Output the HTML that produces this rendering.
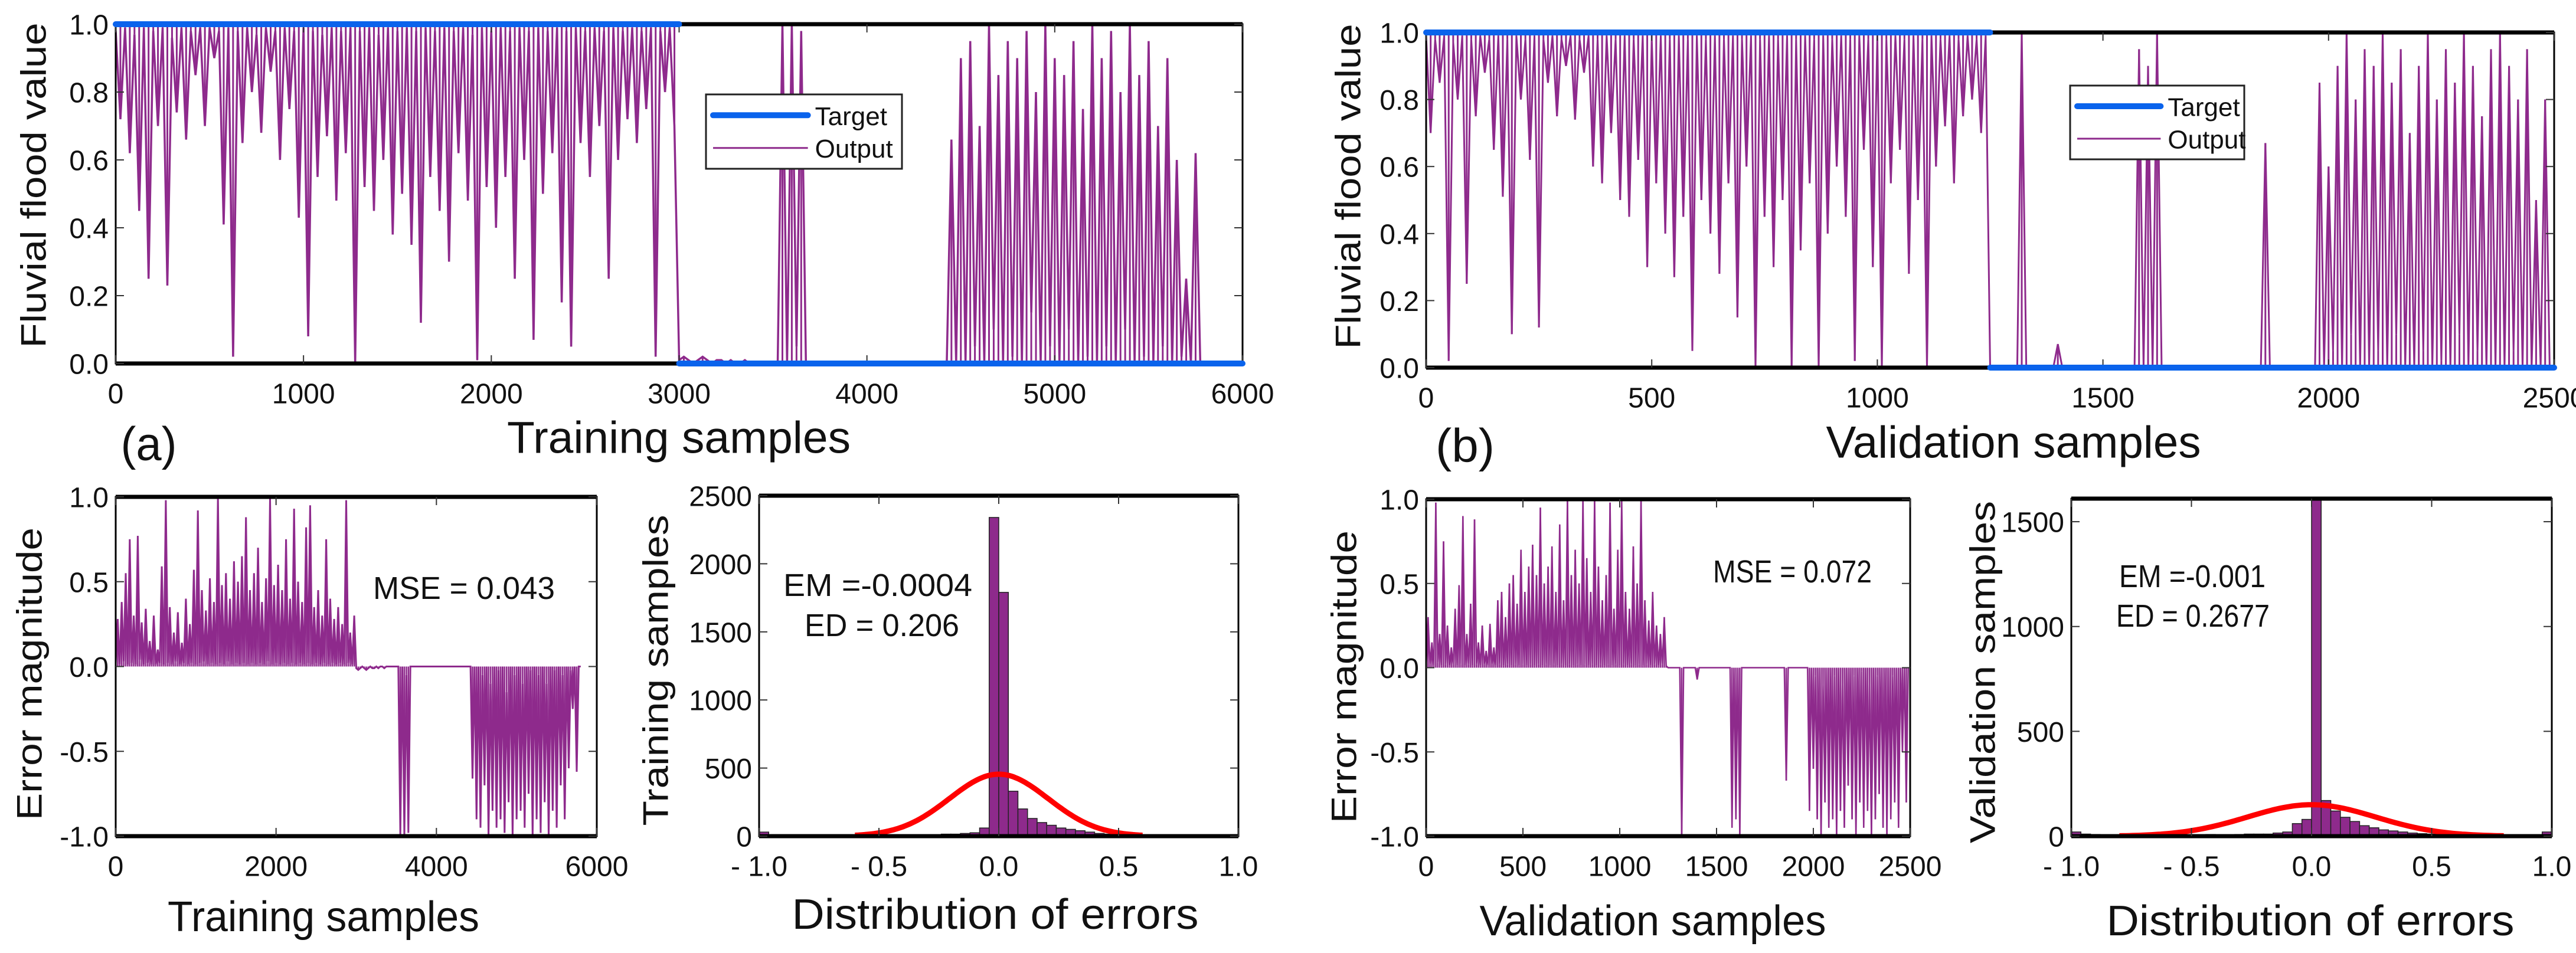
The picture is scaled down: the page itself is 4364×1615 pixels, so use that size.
<!DOCTYPE html>
<html><head><meta charset="utf-8">
<style>
html,body{margin:0;padding:0;background:#fff;}
svg{display:block;}
text{font-family:"Liberation Sans Narrow","Liberation Sans",sans-serif;fill:#111;}
.big{font-family:"Liberation Sans",sans-serif;font-weight:normal;}
</style></head>
<body>
<svg id="fig" xmlns="http://www.w3.org/2000/svg" width="4364" height="1615" viewBox="0 0 4364 1615"></svg>
<script>
// ---------- data ----------
const trainStep = 25;
const trainOutput = [
.98,.72,.99,.62,.97,.45,.99,.25,.98,.70,
.99,.23,.96,.74,.99,.66,.98,.85,.99,.70,
.99,.90,.98,.41,.99,.02,.98,.65,.99,.80,
.97,.68,.99,.86,.98,.60,.99,.75,.98,.43,
.99,.08,.98,.55,.97,.67,.99,.48,.98,.62,
.99,.00,.98,.52,.99,.45,.97,.60,.99,.38,
.98,.50,.99,.35,.98,.12,.99,.55,.98,.45,
.99,.30,.98,.62,.99,.48,.97,.01,.99,.52,
.98,.40,.99,.55,.98,.25,.99,.60,.98,.07,
.99,.50,.98,.62,.99,.18,.98,.05,.99,.65,
.98,.55,.99,.70,.98,.25,.99,.60,.98,.72,
.99,.65,.98,.75,.99,.02,.98,.80,.99,.70,
.01,.02,.01,0,.01,.02,.01,0,.01,.01,
0,.01,0,0,.01,0,0,0,0,0,
0,0,
1.0,0,1.0,.05,.98,0,
0,0,0,0,0,0,0,0,0,0,
0,0,0,0,0,0,0,0,0,0,
0,0,0,0,0,0,0,0,0,0,
.66,0,
.9,0,.95,.05,.7,0,1.0,.1,.85,0,
.95,.02,.9,0,.98,.15,.8,0,1.0,.05,
.9,0,.85,.1,.95,0,.75,.02,1.0,0,
.9,.05,.98,0,.8,.1,1.0,0,.85,.02,
.95,0,.7,.05,.9,0,.6,.02,.25,0,
.62,0,
0];
const trainTargetX = [0, 3000, 3000, 6000];
const trainTargetY = [1, 1, 0, 0];

const valStep = 10;
const valOutput = [
.99,.70,.98,.85,.99,.02,.97,.80,.99,.25,
.98,.75,.99,.88,.98,.65,.99,.51,.98,.10,
.99,.80,.98,.62,.99,.12,.98,.85,.99,.75,
.98,.90,.99,.74,.98,.88,.99,.60,.98,.55,
.99,.70,.98,.50,.99,.45,.98,.62,.99,.30,
.98,.55,.99,.40,.98,.27,.99,.45,.98,.05,
.99,.50,.98,.40,.99,.28,.98,.55,.99,.15,
.98,.60,.99,0,.98,.45,.99,.30,.98,.50,
.99,0,.98,.35,.99,.55,.98,0,.99,.40,
.98,.60,.99,.45,.98,.02,.99,.65,.98,.30,
.99,0,.98,.55,.99,.65,.98,.28,.99,.50,
.98,0,.99,.60,.98,.72,.99,.55,.98,.75,
.99,.80,.98,.70,.99,
0,0,0,0,0,0,0,1.0,0,0,0,0,0,0,0,.07,
0,0,0,0,0,0,0,0,0,0,0,0,0,0,0,0,0,
.95,0,.9,0,1.0,0,
0,0,0,0,0,0,0,0,0,0,0,0,0,0,0,0,0,0,0,0,0,0,
.67,
0,0,0,0,0,0,0,0,0,0,0,
.85,0,.6,.05,.9,0,1.0,.1,.8,0,
.95,0,.9,.05,1.0,0,.85,.1,.95,0,
.7,0,.9,.05,1.0,0,.8,.02,.95,0,
.85,.1,1.0,0,.9,.05,.75,0,.95,0,
1.0,0,.9,.05,.8,0,.95,0,.5,0,
.8,0];
const valTargetX = [0, 1250, 1250, 2500];
const valTargetY = [1, 1, 0, 0];

const binStart = -1, binWidth = 0.04;
const trainHist = [30,5,5,5,5,10,5,10,5,10, 5,5,10,5,10,5,10,10,10,15, 15,20,25,60,2340, 1790,330,200,130,100, 80,60,50,40,30,20,15,10,5,5, 3,2,2,0,0,0,0,0,0,0];
const valHist = [20,10,8,5,5,5,5,5,5,5, 5,5,5,5,8,5,5,8,10,10, 10,15,20,60,80, 3000,170,120,90,70, 50,40,30,25,20,15,12,10,8,6, 5,5,5,5,5,5,5,5,5,20];
const trainFit = [0, 0.206, 455, -0.6, 0.6];   // mean, sd, peak, from, to
const valFit = [0, 0.2677, 150, -0.8, 0.8];

const ticksTopA = [0,1000,2000,3000,4000,5000,6000];
const ticksTopB = [0,500,1000,1500,2000,2500];
const ticksY01 = [0,0.2,0.4,0.6,0.8,1.0];
const ticksErrXA = [0,2000,4000,6000];
const ticksErrXB = [0,500,1000,1500,2000,2500];
const ticksErrY = [-1,-0.5,0,0.5,1];
const ticksHistX = [-1,-0.5,0,0.5,1];
const ticksHistYA = [0,500,1000,1500,2000,2500];
const ticksHistYB = [0,500,1000,1500];

// ---------- drawing ----------
const NS = 'http://www.w3.org/2000/svg';
const svg = document.getElementById('fig');
const PURPLE = '#8e2a8c', BLUE = '#0a63ec';
let clipId = 0;
function mk(tag, attrs, parent){
  const e = document.createElementNS(NS, tag);
  for (const k in attrs) e.setAttribute(k, attrs[k]);
  (parent || svg).appendChild(e);
  return e;
}
function fmt(v, dec){ return dec === 0 ? String(v) : v.toFixed(dec); }
function axes(name, o){
  const g = mk('g', {});
  
  
  o.sx = v => o.x0 + (v - o.xmin) / (o.xmax - o.xmin) * (o.x1 - o.x0);
  o.sy = v => o.y1 - (v - o.ymin) / (o.ymax - o.ymin) * (o.y1 - o.y0);
  const id = 'c' + (clipId++);
  const cp = mk('clipPath', {id: id}, g);
  mk('rect', {x:o.x0, y:o.y0, width:o.x1-o.x0, height:o.y1-o.y0}, cp);
  o.plot = mk('g', {'clip-path':'url(#'+id+')'}, g);
  
  
  o.g = g;
  return o;
}
function frame(o, xt, yt, xdec, ydec){
  const g = o.g;
  const f = mk('rect', {x:o.x0, y:o.y0, width:o.x1-o.x0, height:o.y1-o.y0, fill:'none', stroke:'#000', 'stroke-width':3}, g);
  
  
  mk('line', {x1:o.x0, x2:o.x1, y1:o.y0, y2:o.y0, stroke:'#000', 'stroke-width':7}, g);
  mk('line', {x1:o.x0, x2:o.x1, y1:o.y1, y2:o.y1, stroke:'#000', 'stroke-width':7}, g);
  xt.forEach(v => {
    const x = o.sx(v);
    mk('line', {x1:x, x2:x, y1:o.y1, y2:o.y1-14, stroke:'#333', 'stroke-width':2}, g);
    mk('line', {x1:x, x2:x, y1:o.y0, y2:o.y0+14, stroke:'#333', 'stroke-width':2}, g);
    const t = mk('text', {x:x, y:o.y1+52, 'font-size':48, 'text-anchor':'middle', 'dominant-baseline':'central'}, g);
    
    
    t.textContent = fmt(v, xdec).replace('-', '- ');
  });
  yt.forEach(v => {
    const y = o.sy(v);
    mk('line', {x1:o.x0, x2:o.x0+14, y1:y, y2:y, stroke:'#333', 'stroke-width':2}, g);
    mk('line', {x1:o.x1, x2:o.x1-14, y1:y, y2:y, stroke:'#333', 'stroke-width':2}, g);
    const t = mk('text', {x:o.x0-12, y:y+2, 'font-size':48, 'text-anchor':'end', 'dominant-baseline':'central'}, g);
    
    
    t.textContent = fmt(v, ydec);
  });
}
function series(o, xs, ys, color, w, name, parent){
  const pts = xs.map((x,i) => o.sx(x).toFixed(1) + ',' + o.sy(ys[i]).toFixed(1)).join(' ');
  const p = mk('polyline', {points:pts, fill:'none', stroke:color, 'stroke-width':w, 'stroke-linejoin':'miter'}, parent || o.plot);
  
  
  return p;
}
function spikes(o, xs, ys, base, color, w, name){
  const g = mk('g', {}, o.plot);
  
  
  xs.forEach((x,i) => {
    const s = mk('line', {x1:o.sx(x), x2:o.sx(x), y1:o.sy(base[i]), y2:o.sy(ys[i]), stroke:color, 'stroke-width':w}, g);
  });
}
function targetLine(o, xs, ys, name){
  for (let i=0;i<xs.length;i+=2){
    const l = mk('line', {x1:o.sx(xs[i]), x2:o.sx(xs[i+1]), y1:o.sy(ys[i]), y2:o.sy(ys[i+1]), stroke:BLUE, 'stroke-width':10, 'stroke-linecap':'round'}, o.g);
    
    
  }
}
function label(txt, x, y, size, len, rot, name, cls){
  const t = mk('text', {x:x, y:y, 'font-size':size, 'text-anchor':'middle', 'dominant-baseline':'central', textLength:len, lengthAdjust:'spacingAndGlyphs'});
  if (rot) t.setAttribute('transform', 'rotate(-90 '+x+' '+y+')');
  if (cls) t.setAttribute('class', cls);
  
  
  t.textContent = txt;
  return t;
}
function textAt(txt, x, y, size, len, name){
  const t = mk('text', {x:x, y:y, 'font-size':size, 'dominant-baseline':'central', textLength:len, lengthAdjust:'spacingAndGlyphs'});
  
  
  t.textContent = txt;
}
function hist(o, counts, fit, name){
  counts.forEach((c,i) => {
    const a = binStart + i*binWidth, b = a + binWidth;
    if (c <= 0) return;
    const r = mk('rect', {x:o.sx(a), y:o.sy(c), width:o.sx(b)-o.sx(a), height:o.sy(0)-o.sy(c), fill:PURPLE, stroke:'#222', 'stroke-width':1.5}, o.plot);
    
    
  });
  const xs = [], ys = [];
  for (let k=0;k<=120;k++){
    const x = fit[3] + (fit[4]-fit[3])*k/120;
    xs.push(x); ys.push(fit[2]*Math.exp(-Math.pow(x-fit[0],2)/(2*fit[1]*fit[1])));
  }
  series(o, xs, ys, '#ff0000', 9, name + '-normal-fit');
}
function legend(x0,y0,x1,y1,name){
  const g = mk('g', {});
  
  
  mk('rect', {x:x0, y:y0, width:x1-x0, height:y1-y0, fill:'#fff', stroke:'#222', 'stroke-width':3}, g);
  const ly1 = y0 + (y1-y0)*0.28, ly2 = y0 + (y1-y0)*0.72;
  const lx = x0 + 12, lx2 = x0 + (x1-x0)*0.52;
  const a = mk('line', {x1:lx, x2:lx2, y1:ly1, y2:ly1, stroke:BLUE, 'stroke-width':10, 'stroke-linecap':'round'}, g);
  
  
  const b = mk('line', {x1:lx, x2:lx2, y1:ly2, y2:ly2, stroke:PURPLE, 'stroke-width':3}, g);
  
  
  const t1 = mk('text', {x:lx2+12, y:ly1+2, 'font-size':44, 'dominant-baseline':'central'}, g);
  
  
  t1.textContent = 'Target';
  const t2 = mk('text', {x:lx2+12, y:ly2+2, 'font-size':44, 'dominant-baseline':'central'}, g);
  
  
  t2.textContent = 'Output';
}

// ---- panel (a) top ----
const topA = axes('training-output-chart', {x0:196,x1:2105,y0:41,y1:616,xmin:0,xmax:6000,ymin:0,ymax:1});
const txA = trainOutput.map((v,i)=>i*trainStep);
const trainTargetAtIdx = txA.map(x => x < 3000 ? 1 : 0);
spikes(topA, txA, trainOutput, trainTargetAtIdx, PURPLE, 3, 'training-output-spikes');
series(topA, txA, trainOutput, PURPLE, 3.5, 'training-output-line');
frame(topA, ticksTopA, ticksY01, 0, 1);
targetLine(topA, trainTargetX, trainTargetY, 'training-target-line');
legend(1196,160,1528,286,'training-legend');
label('Fluvial flood value', 57, 314, 60, 551, true, 'y-axis-title', 'big');
label('Training samples', 1150, 742, 76, 582, false, 'x-axis-title');
label('(a)', 252, 752, 80, 95, false, 'panel-label-a', 'big');

// ---- panel (a) error ----
const errA = axes('training-error-chart', {x0:196,x1:1011,y0:842,y1:1417,xmin:0,xmax:6000,ymin:-1,ymax:1});
const trainErr = trainOutput.map((v,i)=>trainTargetAtIdx[i]-v);
spikes(errA, txA, trainErr, trainErr.map(()=>0), PURPLE, 2.5, 'training-error-spikes');
series(errA, txA, trainErr, PURPLE, 3, 'training-error-line');
frame(errA, ticksErrXA, ticksErrY, 0, 1);
label('Error magnitude', 50, 1142, 60, 496, true, 'y-axis-title', 'big');
label('Training samples', 548, 1554, 72, 528, false, 'x-axis-title');
textAt('MSE = 0.043', 632, 997, 54, 308, 'mse-annotation');

// ---- panel (a) histogram ----
const hA = axes('training-error-histogram', {x0:1286,x1:2098,y0:840,y1:1417,xmin:-1,xmax:1,ymin:0,ymax:2500});
hist(hA, trainHist, trainFit, 'training-hist');
frame(hA, ticksHistX, ticksHistYA, 1, 0);
label('Training samples', 1111, 1136, 60, 527, true, 'y-axis-title', 'big');
label('Distribution of errors', 1686, 1550, 72, 689, false, 'x-axis-title');
textAt('EM =-0.0004', 1327, 992, 54, 320, 'em-annotation');
textAt('ED = 0.206', 1363, 1060, 54, 262, 'ed-annotation');

// ---- panel (b) top ----
const topB = axes('validation-output-chart', {x0:2416,x1:4327,y0:55,y1:623,xmin:0,xmax:2500,ymin:0,ymax:1});
const txB = valOutput.map((v,i)=>i*valStep);
const valTargetAtIdx = txB.map(x => x < 1250 ? 1 : 0);
spikes(topB, txB, valOutput, valTargetAtIdx, PURPLE, 3, 'validation-output-spikes');
series(topB, txB, valOutput, PURPLE, 3, 'validation-output-line');
frame(topB, ticksTopB, ticksY01, 0, 1);
targetLine(topB, valTargetX, valTargetY, 'validation-target-line');
legend(3507,145,3802,270,'validation-legend');
label('Fluvial flood value', 2284, 316, 60, 551, true, 'y-axis-title', 'big');
label('Validation samples', 3411, 750, 76, 635, false, 'x-axis-title');
label('(b)', 2482, 755, 80, 100, false, 'panel-label-b', 'big');

// ---- panel (b) error ----
const errB = axes('validation-error-chart', {x0:2416,x1:3236,y0:846,y1:1417,xmin:0,xmax:2500,ymin:-1,ymax:1});
const valErr = valOutput.map((v,i)=>valTargetAtIdx[i]-v);
spikes(errB, txB, valErr, valErr.map(()=>0), PURPLE, 2.5, 'validation-error-spikes');
series(errB, txB, valErr, PURPLE, 2.5, 'validation-error-line');
frame(errB, ticksErrXB, ticksErrY, 0, 1);
label('Error magnitude', 2277, 1147, 60, 496, true, 'y-axis-title', 'big');
label('Validation samples', 2800, 1561, 72, 587, false, 'x-axis-title');
textAt('MSE = 0.072', 2902, 969, 54, 269, 'mse-annotation');

// ---- panel (b) histogram ----
const hB = axes('validation-error-histogram', {x0:3509,x1:4323,y0:845,y1:1417,xmin:-1,xmax:1,ymin:0,ymax:1610});
hist(hB, valHist, valFit, 'validation-hist');
frame(hB, ticksHistX, ticksHistYB, 1, 0);
label('Validation samples', 3359, 1139, 60, 580, true, 'y-axis-title', 'big');
label('Distribution of errors', 3914, 1561, 72, 691, false, 'x-axis-title');
textAt('EM =-0.001', 3590, 977, 54, 248, 'em-annotation');
textAt('ED = 0.2677', 3585, 1044, 54, 260, 'ed-annotation');
</script>
</body></html>
